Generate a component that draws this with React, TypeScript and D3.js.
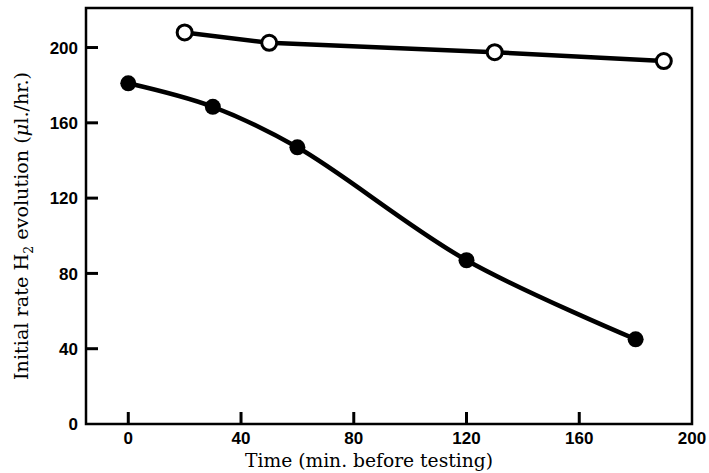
import React from "react";
import * as d3 from "d3";

const filledTimes = [0, 30, 60, 120, 180];
const filledRates = [181, 168.5, 147, 87, 45];
const openTimes = [20, 50, 130, 190];
const openRates = [208, 202.5, 197.5, 192.8];
const xTicks = [0, 40, 80, 120, 160, 200];
const yTicks = [0, 40, 80, 120, 160, 200];
const xTitle = "Time (min. before testing)";

const W = 709;
const H = 473;

export default function App() {
  const x = d3.scaleLinear().domain([-15, 200]).range([86, 692]);
  const y = d3.scaleLinear().domain([0, 221]).range([424, 8]);

  const filled = filledTimes.map((t, i) => [t, filledRates[i]] as [number, number]);
  const open = openTimes.map((t, i) => [t, openRates[i]] as [number, number]);

  const curve = d3
    .line<[number, number]>()
    .x((d) => x(d[0]))
    .y((d) => y(d[1]))
    .curve(d3.curveCatmullRom.alpha(0.5));
  const straight = d3
    .line<[number, number]>()
    .x((d) => x(d[0]))
    .y((d) => y(d[1]));

  const tickFont = "'Liberation Sans', Arial, sans-serif";
  const serif = "'DejaVu Serif', 'Liberation Serif', serif";
  const x0 = x(-15);
  const x1 = x(200);
  const y0 = y(0);
  const y1 = y(221);

  return (
    <svg
      width={W}
      height={H}
      style={{ position: "absolute", left: 0, top: 0, background: "#fff" }}
    >
      <rect x={0} y={0} width={W} height={H} fill="#fff" />
      {/* frame */}
      <path
        d={`M${x0},${y1} L${x1},${y1} L${x1},${y0} L${x0},${y0} Z`}
        fill="none"
        stroke="#000"
        strokeWidth={2.5}
      />
      {/* x ticks */}
      {xTicks.map((t) => (
        <g key={"xt" + t}>
          {t < 200 && (
            <line x1={x(t)} x2={x(t)} y1={y0} y2={y0 - 12} stroke="#000" strokeWidth={3} />
          )}
          <text
            x={x(t)}
            y={y0 + 20}
            textAnchor="middle"
            fontFamily={tickFont}
            fontWeight="bold"
            fontSize={17}
          >
            {t}
          </text>
        </g>
      ))}
      {/* y ticks */}
      {yTicks.map((t) => (
        <g key={"yt" + t}>
          {t > 0 && (
            <line x1={x0} x2={x0 + 12} y1={y(t)} y2={y(t)} stroke="#000" strokeWidth={3} />
          )}
          <text
            x={x0 - 8}
            y={y(t)}
            dy="0.36em"
            textAnchor="end"
            fontFamily={tickFont}
            fontWeight="bold"
            fontSize={17}
          >
            {t}
          </text>
        </g>
      ))}
      {/* series */}
      <path d={straight(open) || ""} fill="none" stroke="#000" strokeWidth={4.5} />
      <path d={curve(filled) || ""} fill="none" stroke="#000" strokeWidth={4.5} />
      {filled.map((d, i) => (
        <circle key={"f" + i} cx={x(d[0])} cy={y(d[1])} r={8} fill="#000" />
      ))}
      {open.map((d, i) => (
        <circle
          key={"o" + i}
          cx={x(d[0])}
          cy={y(d[1])}
          r={7.5}
          fill="#fff"
          stroke="#000"
          strokeWidth={3}
        />
      ))}
      {/* axis titles */}
      <text
        x={369}
        y={467}
        textAnchor="middle"
        fontFamily={serif}
        fontSize={18.5}
        textLength={248}
        lengthAdjust="spacingAndGlyphs"
      >
        {xTitle}
      </text>
      <text
        transform={`translate(28,226) rotate(-90)`}
        textAnchor="middle"
        fontFamily={serif}
        fontSize={18.5}
        textLength={308}
        lengthAdjust="spacingAndGlyphs"
      >
        <tspan>Initial rate H</tspan>
        <tspan fontSize={12} dy={5}>2</tspan>
        <tspan dy={-5}> evolution (</tspan>
        <tspan fontStyle="italic">μ</tspan>
        <tspan>l./hr.)</tspan>
      </text>
    </svg>
  );
}
